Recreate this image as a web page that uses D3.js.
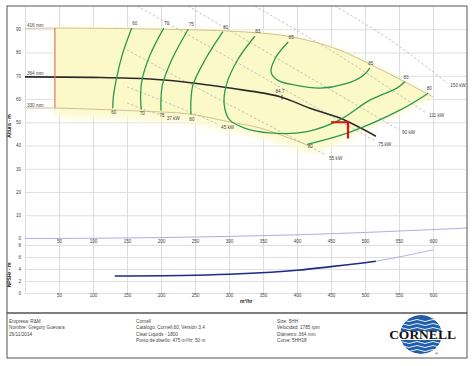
<!DOCTYPE html>
<html>
<head>
<meta charset="utf-8">
<script src="https://cdn.jsdelivr.net/npm/d3@7"></script>
<style>
  html, body { margin: 0; padding: 0; background: #fff; }
  svg { display: block; font-family: "Liberation Sans", Arial, sans-serif; }
</style>
</head>
<body>
<svg id="chart" width="474" height="366"></svg>
<script>
// Flow ticks (m3/hr) and head / NPSH ticks
const flowTicks = [50, 100, 150, 200, 250, 300, 350, 400, 450, 500, 550, 600];
const headTicks = [0, 10, 20, 30, 40, 50, 60, 70, 80, 90];
const npshTicks = [0, 2, 4, 6, 8];

// Impeller curves [Q, H]
const imp416 = [[0, 90.3], [44, 90.5], [184, 90.1], [301, 89.2], [375, 87.5], [419, 85], [463, 81], [510, 74.6], [559, 67.3], [600, 60.9]];
const imp364 = [[0, 69.5], [100, 69.3], [184, 68.6], [250, 66.8], [301, 64.7], [375, 61], [419, 56], [463, 51.8], [516, 44]];
const imp330 = [[0, 56.1], [44, 56.1], [129, 55.3], [169, 54.8], [243, 53.5], [301, 50.1], [346, 47.5], [415, 40.2]];
const impLabels = ["416 mm", "364 mm", "330 mm"];

// Efficiency iso-lines [Q, H]
const eff60 = [[157, 90.5], [143, 79], [134, 68], [130, 61], [129, 56]];
const eff70 = [[204, 90.5], [184, 79], [172, 68], [170, 61], [171, 55.5]];
const eff75 = [[240, 90], [216, 77], [202, 66], [200, 60], [200, 55]];
const eff80a = [[291, 89], [265, 77], [247, 66], [244, 59], [244, 53.3]];
const eff83 = [[338, 87], [313, 77], [296, 66], [293, 57.5], [301, 51], [323, 47.5], [360, 45.4], [415, 46], [463, 51], [507, 59.5], [547, 64.7], [559, 67.5]];
const eff85 = [[387, 84.5], [368, 77.5], [362, 71.5], [372, 68], [397, 66], [434, 64.7], [471, 66.5], [497, 70], [507, 73.3]];
const eff80b = [[415, 40.5], [478, 45.8], [552, 55.3], [593, 62.5]];

// Power lines [Q, H]
const kw150 = [[456, 100], [537, 85.4], [621, 66.9]];
const kw111 = [[338, 100], [463, 78.5], [590, 54]];
const kw90 = [[240, 100], [390, 74.2], [550, 46.7]];
const kw75 = [[165, 100], [331, 72.5], [515, 41.9]];
const kw55 = [[150, 81.1], [301, 57.4], [443, 35.9]];
const kw45 = [[150, 65.2], [221, 57], [284, 49.2]];
const kw37 = [[150, 58.3], [177, 55.3], [204, 52.7]];

// Design point and best efficiency point
const designQ = 475, designH = 50, designFrom = 450, designDrop = 43;
const bepQ = 378, bepH = 61, bepLabel = "84.7";

// Friction curve shown along the head baseline
const baseCurve = [[0, 0], [100, 0.1], [200, 0.4], [300, 0.9], [400, 1.6], [500, 2.6], [650, 4.5]];

// NPSHr [Q, m]
const npshReq = [[132, 2.83], [250, 2.95], [316, 3.2], [400, 3.8], [450, 4.4], [500, 5.05], [516, 5.3]];
const npshExt = [[516, 5.3], [550, 6.0], [600, 7.2]];

const footLeft = ["Empresa: R&M", "Nombre: Gregory Guevara", "26/11/2014"];
const footMid = ["Cornell", "Catálogo: Cornell.60, Versión 3.4", "Clear Liquids - 1800", "Punto de diseño: 475 m³/hr, 50 m"];
const footRight = ["Size: 5HH", "Velocidad: 1785 rpm", "Diámetro: 364 mm", "Curve: 5HH18"];

const svg = d3.select("#chart");

const x = d3.scaleLinear().domain([0, 650]).range([25, 467]);
const y = d3.scaleLinear().domain([0, 100]).range([238.5, 6]);
const yN = d3.scaleLinear().domain([0, 8]).range([293, 245]);

const green = "#2a9a4a";
const fs = 4.6;

// Soft yellow glow
const defs = svg.append("defs");
defs.append("filter").attr("id", "soft")
  .attr("x", "-10%").attr("y", "-10%").attr("width", "120%").attr("height", "140%")
  .append("feGaussianBlur").attr("stdDeviation", 3);
defs.append("clipPath").attr("id", "plot").append("rect")
  .attr("x", 25).attr("y", 6).attr("width", 442).attr("height", 232.5);

// Grid
svg.append("g")
  .attr("transform", "translate(0,6)")
  .call(d3.axisBottom(x).tickValues([0].concat(flowTicks)).tickSize(287).tickFormat(""))
  .call(g => g.select(".domain").remove())
  .selectAll("line").attr("stroke", "#d4d4de").attr("stroke-width", 0.8);

svg.append("g")
  .attr("transform", "translate(25,0)")
  .call(d3.axisRight(y).tickValues(headTicks.slice(1)).tickSize(442).tickFormat(""))
  .call(g => g.select(".domain").remove())
  .selectAll("line").attr("stroke", "#d8d8d8").attr("stroke-width", 0.8);

svg.append("g")
  .attr("transform", "translate(25,0)")
  .call(d3.axisRight(yN).tickValues(npshTicks).tickSize(442).tickFormat(""))
  .call(g => g.select(".domain").remove())
  .selectAll("line").attr("stroke", "#d8d8d8").attr("stroke-width", 0.8);

// Axis labels
function styleLabels(g) {
  g.select(".domain").remove();
  g.selectAll("text").attr("font-size", fs).attr("fill", "#444").attr("font-family", "Liberation Sans, Arial, sans-serif");
}
svg.append("g").attr("transform", "translate(21,0)")
  .call(d3.axisLeft(y).tickValues(headTicks).tickSize(0).tickPadding(0)).call(styleLabels);
svg.append("g").attr("transform", "translate(21,0)")
  .call(d3.axisLeft(yN).tickValues(npshTicks).tickSize(0).tickPadding(0).tickFormat(d3.format("d"))).call(styleLabels);
svg.append("g").attr("transform", "translate(0,240)")
  .call(d3.axisBottom(x).tickValues(flowTicks).tickSize(0).tickPadding(0)).call(styleLabels);
svg.append("g").attr("transform", "translate(0,294)")
  .call(d3.axisBottom(x).tickValues(flowTicks).tickSize(0).tickPadding(0)).call(styleLabels);

svg.append("text").attr("transform", "translate(11,126) rotate(-90)")
  .attr("text-anchor", "middle").attr("font-size", 5).attr("font-weight", "bold").attr("fill", "#222")
  .text("Altura - m");
svg.append("text").attr("transform", "translate(11,275) rotate(-90)")
  .attr("text-anchor", "middle").attr("font-size", 5).attr("font-weight", "bold").attr("fill", "#222")
  .text("NPSHr - m");
svg.append("text").attr("x", 240).attr("y", 303)
  .attr("font-size", 5).attr("font-weight", "bold").attr("fill", "#222").text("m³/hr");

const line = d3.line().x(d => x(d[0])).y(d => y(d[1])).curve(d3.curveCatmullRom.alpha(0.5));
const lineN = d3.line().x(d => x(d[0])).y(d => yN(d[1])).curve(d3.curveCatmullRom.alpha(0.5));

// Yellow operating region, with a soft halo spilling under the minimum impeller
const upperEdge = imp416.filter(d => d[0] >= 44);
const lowerEdge = imp330.filter(d => d[0] >= 44).slice().reverse();
const regionPath = line(upperEdge) + "L" + lowerEdge.map(d => x(d[0]) + "," + y(d[1])).join("L") + "Z";
const haloPath = line(upperEdge) + "L" + lowerEdge.map((d, i) => (x(d[0]) + (i === 0 ? 8 : 0)) + "," + (y(d[1]) + 9)).join("L") + "Z";
const region = svg.append("g").attr("clip-path", "url(#plot)");
region.append("path").attr("d", haloPath)
  .attr("fill", "#fdfad0").attr("filter", "url(#soft)");
region.append("path").attr("d", regionPath)
  .attr("fill", "#fcf9c9");

// Friction curve
svg.append("path").attr("d", line(baseCurve)).attr("fill", "none")
  .attr("stroke", "#a4a4dc").attr("stroke-width", 0.9);

// Power lines
const power = [[kw150, "150 kW"], [kw111, "111 kW"], [kw90, "90 kW"], [kw75, "75 kW"], [kw55, "55 kW"], [kw45, "45 kW"], [kw37, "37 kW"]];
const powerG = svg.append("g").attr("clip-path", "url(#plot)");
power.forEach(([pts, lab]) => {
  powerG.append("path").attr("d", line(pts)).attr("fill", "none")
    .attr("stroke", "#b4b4b4").attr("stroke-width", 0.8).attr("stroke-dasharray", "2.5,2");
  const e = pts[pts.length - 1];
  svg.append("text").attr("x", x(e[0]) + 3).attr("y", y(e[1]) + 4.5)
    .attr("font-size", fs).attr("fill", "#444").text(lab);
});

// Impeller curves
svg.append("path").attr("d", line(imp416)).attr("fill", "none").attr("stroke", "#c9b98c").attr("stroke-width", 0.9);
svg.append("path").attr("d", line(imp330)).attr("fill", "none").attr("stroke", "#c9b98c").attr("stroke-width", 0.9);
svg.append("path").attr("d", line(imp364)).attr("fill", "none").attr("stroke", "#2b2b2b").attr("stroke-width", 1.6);
[imp416, imp364, imp330].forEach((c, i) => {
  svg.append("text").attr("x", 27).attr("y", y(c[0][1]) - 1.5)
    .attr("font-size", fs).attr("fill", "#444").text(impLabels[i]);
});

// Minimum flow marker
svg.append("line").attr("x1", x(44)).attr("x2", x(44)).attr("y1", y(90.5)).attr("y2", y(56.1))
  .attr("stroke", "#e57373").attr("stroke-width", 1.2);

// Efficiency lines
const effs = [
  [eff60, "60", "60", -3, 6],
  [eff70, "70", "70", -3, 6],
  [eff75, "75", "75", -3, 6],
  [eff80a, "80", "80", -3, 6],
  [eff83, "83", "83", -3, -3],
  [eff85, "85", "85", -3, -3],
  [eff80b, "80", "80", 4, -3]
];
effs.forEach(([pts, a, b, da, db]) => {
  svg.append("path").attr("d", line(pts)).attr("fill", "none")
    .attr("stroke", green).attr("stroke-width", 1.3);
  const s = pts[0], e = pts[pts.length - 1];
  svg.append("text").attr("x", x(s[0]) + 3).attr("y", y(s[1]) + da)
    .attr("font-size", fs).attr("fill", "#444").attr("text-anchor", "middle").text(a);
  svg.append("text").attr("x", x(e[0]) + 1).attr("y", y(e[1]) + db)
    .attr("font-size", fs).attr("fill", "#444").attr("text-anchor", "middle").text(b);
});

// BEP mark
svg.append("line").attr("x1", x(bepQ)).attr("x2", x(bepQ)).attr("y1", y(bepH) - 2).attr("y2", y(bepH) + 3)
  .attr("stroke", "#333").attr("stroke-width", 0.8);
svg.append("text").attr("x", x(bepQ) - 2).attr("y", y(bepH) - 4)
  .attr("font-size", fs).attr("fill", "#444").attr("text-anchor", "middle").text(bepLabel);

// Design point
svg.append("path")
  .attr("d", `M${x(designFrom)},${y(designH)}H${x(designQ)}V${y(designDrop)}`)
  .attr("fill", "none").attr("stroke", "#e01010").attr("stroke-width", 2.2);

// NPSH
svg.append("path").attr("d", lineN(npshExt)).attr("fill", "none").attr("stroke", "#a8a8d8").attr("stroke-width", 0.9);
svg.append("path").attr("d", lineN(npshReq)).attr("fill", "none").attr("stroke", "#1c2a8a").attr("stroke-width", 1.6);

// Frames
svg.append("rect").attr("x", 7).attr("y", 6).attr("width", 460).attr("height", 307)
  .attr("fill", "none").attr("stroke", "#555").attr("stroke-width", 1);
svg.append("rect").attr("x", 7).attr("y", 313).attr("width", 460).attr("height", 45)
  .attr("fill", "none").attr("stroke", "#555").attr("stroke-width", 1);

// Footer text
[[footLeft, 9], [footMid, 136], [footRight, 277]].forEach(([rows, fx]) => {
  rows.forEach((t, i) => {
    svg.append("text").attr("x", fx).attr("y", 322.5 + i * 6.5)
      .attr("font-size", 4.7).attr("fill", "#444").text(t);
  });
});

// Logo
const logo = svg.append("g").attr("transform", "translate(421,334.5)");
defs.append("clipPath").attr("id", "globe").append("ellipse").attr("rx", 21).attr("ry", 19.5);
const gl = logo.append("g").attr("clip-path", "url(#globe)");
gl.append("ellipse").attr("rx", 21).attr("ry", 19.5).attr("fill", "#1f5ea8");
[-14, -10, -6, 8, 12, 16].forEach(wy => {
  gl.append("path")
    .attr("d", `M-24,${wy} q4,-2 8,0 t8,0 t8,0 t8,0 t8,0 t8,0`)
    .attr("fill", "none").attr("stroke", "#fff").attr("stroke-width", 0.9);
});
gl.append("rect").attr("x", -24).attr("y", -3.5).attr("width", 48).attr("height", 9).attr("fill", "#fff");
logo.append("text").attr("x", 1.5).attr("y", 4.8).attr("text-anchor", "middle")
  .attr("font-family", "Liberation Serif, Times New Roman, serif").attr("font-weight", "bold")
  .attr("font-size", 13.5).attr("fill", "#111").text("CORNELL");
logo.append("text").attr("x", 14).attr("y", 20).attr("font-size", 4).attr("fill", "#111").text("®");
</script>
</body>
</html>
